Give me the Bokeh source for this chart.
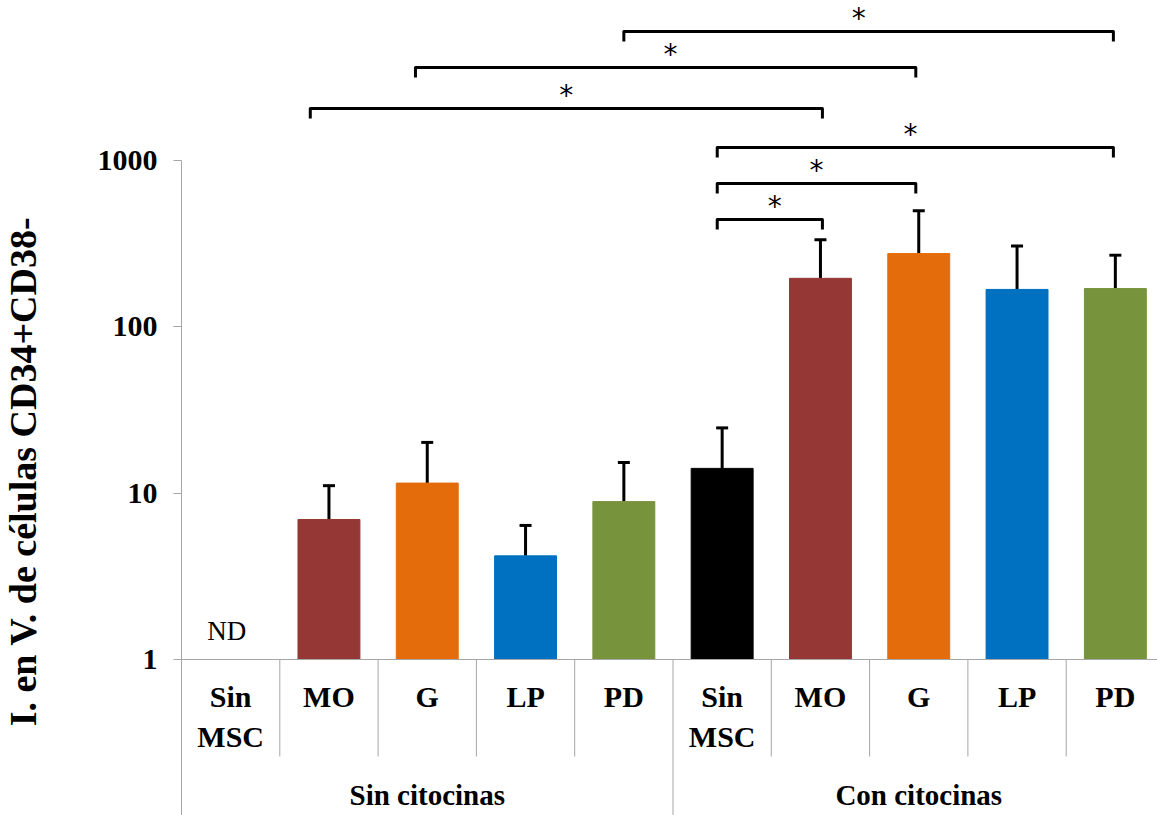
from bokeh.plotting import figure
from bokeh.models import (Range1d, FixedTicker, Whisker, ColumnDataSource, TeeHead, LinearAxis)
from bokeh.core.properties import value
from bokeh.embed import file_html
from bokeh.resources import INLINE
import math

# ---------------- data ----------------
categories = ["Sin\nMSC", "MO", "G", "LP", "PD", "Sin\nMSC", "MO", "G", "LP", "PD"]
group_names = ["Sin citocinas", "Con citocinas"]
group_size = 5
means = [float("nan"), 6.95, 11.5, 4.2, 8.9, 14.1, 196, 276, 168, 170]
errors = [float("nan"), 4.15, 8.7, 2.2, 6.4, 10.6, 138, 223, 139, 100]
colors = ["#000000", "#953735", "#E46C0A", "#0070C0", "#77933C",
          "#000000", "#953735", "#E46C0A", "#0070C0", "#77933C"]
y_ticks = [1, 10, 100, 1000]
y_title = "I. en V. de células CD34+CD38-"
nd_label = "ND"

# significance brackets: (from index, to index, from offset, to offset, height)
br_from = [4, 2, 1, 5, 5, 5]
br_to = [9, 7, 6, 9, 7, 6]
br_from_off = [0.0, -0.12, -0.19, -0.05, -0.05, -0.05]
br_to_off = [-0.02, -0.03, 0.02, -0.02, -0.03, 0.02]
br_height = [5970, 3630, 2060, 1200, 728, 442]
br_text = ["*"] * 6
br_text_shift = [-0.1, 0.05, 0.0, -0.05, 0.0, 0.05]

SERIF = "Liberation Serif"
GREY = "#a6a6a6"

# ---------------- geometry ----------------
W, H = 1157, 815
X0PX, CATPX = 181, 98.3      # pixel of first category edge, pixels per category
Y1PX, DEC = 659, 166.3       # pixel of y = 1, pixels per decade
x_lo = -X0PX / CATPX
x_hi = (W - X0PX) / CATPX
y_lo = 10 ** (-(H - Y1PX) / DEC)
y_hi = 10 ** (Y1PX / DEC)


def px(n):
    """factor on the log axis corresponding to n screen pixels upward"""
    return 10 ** (n / DEC)


p = figure(x_range=Range1d(x_lo, x_hi), y_axis_type="log", y_range=Range1d(y_lo, y_hi),
           width=W, height=H, min_border=0, min_border_left=0, min_border_right=0,
           min_border_top=0, min_border_bottom=0,
           output_backend="svg", toolbar_location=None)
p.outline_line_color = None
p.xgrid.grid_line_color = None
p.ygrid.grid_line_color = None

centers = [i + 0.5 for i in range(len(categories))]

# category separators below the axis
sep_x = list(range(len(categories)))
sep_bottom = [y_lo if i % group_size == 0 else px(-97) for i in sep_x]
p.segment(x0=sep_x, x1=sep_x, y0=[1] * len(sep_x), y1=sep_bottom, line_color=GREY, line_width=1)

# bars (first category has no data -> "ND")
idx = [i for i in range(len(categories)) if means[i] == means[i]]
src = ColumnDataSource(dict(
    x=[centers[i] for i in idx],
    top=[means[i] for i in idx],
    upper=[means[i] + errors[i] for i in idx],
    color=[colors[i] for i in idx],
))
p.vbar(x="x", top="top", bottom=1, width=0.63, fill_color="color", line_color="color", source=src)

w = Whisker(base="x", lower="top", upper="upper", source=src, dimension="height",
            line_color="black", line_width=3,
            upper_head=TeeHead(size=12, line_width=3, line_color="black"), lower_head=None)
p.add_layout(w)

p.text(x=[centers[0] - 0.04], y=[px(29)], text=[nd_label], text_font=value(SERIF),
       text_font_size="27px", text_align="center", text_baseline="alphabetic",
       text_color="black")

# brackets
k = px(-10)
xs, ys, sx, sy = [], [], [], []
for a, b, ao, bo, h, ts in zip(br_from, br_to, br_from_off, br_to_off, br_height, br_text_shift):
    x0 = centers[a] + ao
    x1 = centers[b] + bo
    xs.append([x0, x0, x1, x1])
    ys.append([h * k, h, h, h * k])
    sx.append((x0 + x1) / 2 + ts)
    sy.append(h * px(13))
p.multi_line(xs=xs, ys=ys, line_color="black", line_width=3, line_join="round")
p.text(x=sx, y=sy, text=br_text, text_font=value("DejaVu Sans"), text_font_size="28px",
       text_align="center", text_baseline="alphabetic", text_color="black")

# y axis, drawn at the first category edge
ya = p.yaxis[0]
ya.fixed_location = 0
ya.bounds = (1, 1000)
ya.ticker = FixedTicker(ticks=y_ticks, minor_ticks=[])
ya.major_label_overrides = {t: str(t) for t in y_ticks}
ya.axis_line_color = GREY
ya.major_tick_line_color = GREY
ya.major_tick_out = 8
ya.major_tick_in = 0
ya.minor_tick_line_color = None
ya.major_label_text_font = SERIF
ya.major_label_text_font_style = "bold"
ya.major_label_text_font_size = "30px"
ya.major_label_text_color = "black"
ya.major_label_standoff = 16

# y title (rotated text left of the axis)
p.text(x=[x_lo + 22 / CATPX], y=[px(Y1PX - 471)], text=[y_title], angle=math.pi / 2,
       text_font=value(SERIF), text_font_style="bold", text_font_size="38px",
       text_align="center", text_baseline="alphabetic", text_color="black")

# x axis with category labels (drawn at y = 1)
xa = p.xaxis[0]
xa.fixed_location = 1
xa.bounds = (0, x_hi)
xa.ticker = FixedTicker(ticks=centers, minor_ticks=[])
xa.major_label_overrides = {c: lab for c, lab in zip(centers, categories)}
xa.axis_line_color = GREY
xa.major_tick_line_color = None
xa.minor_tick_line_color = None
xa.major_label_text_font = SERIF
xa.major_label_text_font_style = "bold"
xa.major_label_text_font_size = "30px"
xa.major_label_text_color = "black"
xa.major_label_text_line_height = 1.24
xa.major_label_standoff = 14

# second axis level with group labels
group_centers = [g * group_size + group_size / 2 for g in range(len(group_names))]
ga = LinearAxis(fixed_location=1,
                ticker=FixedTicker(ticks=group_centers, minor_ticks=[]),
                major_label_overrides={c: n for c, n in zip(group_centers, group_names)},
                axis_line_color=None, major_tick_line_color=None, minor_tick_line_color=None,
                major_label_text_font=SERIF, major_label_text_font_style="bold",
                major_label_text_font_size="29px", major_label_text_color="black",
                major_label_standoff=113)
p.add_layout(ga, "below")

open("out.html", "w").write(file_html(p, INLINE))
